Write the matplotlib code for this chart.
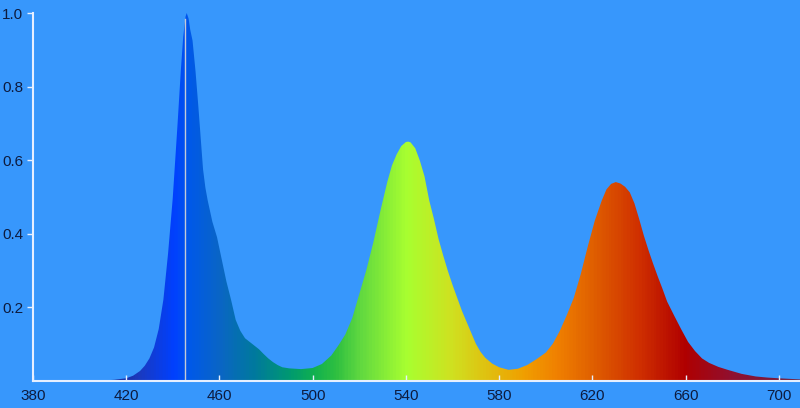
import numpy as np
import matplotlib
matplotlib.use('Agg')
import matplotlib.pyplot as plt
from matplotlib.colors import LinearSegmentedColormap

# spectrum (wavelength nm, relative intensity)
wavelength = [380, 410, 415, 420, 423, 426, 428, 430, 432, 434, 436, 438, 440, 442, 443.5, 444.5,
              445.5, 446, 446.8, 447.5, 448.5, 449.8, 451, 452, 453, 454, 455, 457, 459, 461, 463, 465,
              467, 469, 471, 473, 475, 477, 479, 481, 483, 485, 487, 490, 495, 500,
              504, 508, 511, 514, 517, 520, 523, 526, 529, 532, 534, 536, 538, 540, 541, 542,
              544, 546, 548, 550, 552, 554, 556, 558, 560, 562, 564, 566, 568, 570, 572, 574,
              577, 580, 584, 588, 592, 596, 600, 603, 606, 609, 612, 615, 618, 621, 624, 626,
              628, 630, 632, 634, 636, 638, 640, 642, 644, 646, 648, 650, 652, 655, 658, 661,
              664, 667, 670, 674, 678, 684, 690, 695, 700, 709]
intensity = [0, 0, 0.002, 0.006, 0.013, 0.026, 0.04, 0.06, 0.09, 0.14, 0.22, 0.345, 0.495, 0.69, 0.845, 0.935,
             0.99, 1.0, 0.985, 0.955, 0.925, 0.84, 0.745, 0.66, 0.575, 0.525, 0.49, 0.432, 0.39, 0.33, 0.27, 0.22,
             0.165, 0.135, 0.115, 0.105, 0.095, 0.085, 0.072, 0.06, 0.05, 0.042, 0.036, 0.033, 0.031, 0.034,
             0.045, 0.068, 0.095, 0.125, 0.17, 0.235, 0.30, 0.375, 0.46, 0.54, 0.585, 0.615, 0.638, 0.649, 0.65, 0.648,
             0.632, 0.598, 0.555, 0.49, 0.44, 0.385, 0.34, 0.298, 0.26, 0.225, 0.19, 0.16, 0.13, 0.10, 0.078, 0.062,
             0.046, 0.036, 0.029, 0.032, 0.042, 0.058, 0.076, 0.10, 0.135, 0.178, 0.225, 0.29, 0.365, 0.435, 0.49, 0.52,
             0.535, 0.54, 0.536, 0.527, 0.512, 0.482, 0.44, 0.395, 0.355, 0.318, 0.283, 0.25, 0.215, 0.177, 0.14, 0.105,
             0.08, 0.06, 0.048, 0.037, 0.029, 0.018, 0.011, 0.008, 0.006, 0.003]

peak_marker = 445.3
xticks = [380, 420, 460, 500, 540, 580, 620, 660, 700]
yticks = [0.2, 0.4, 0.6, 0.8, 1.0]

# colour of the fill by wavelength
stops = [(380, '#1a2488'), (415, '#1a2a9a'), (425, '#1a3ac0'), (440, '#0040ff'), (446, '#0058ea'),
         (460, '#0a66c4'), (475, '#007a9c'), (490, '#009a70'), (500, '#10b050'), (510, '#30c040'),
         (520, '#60d840'), (540, '#a8ff30'), (560, '#d0e020'), (575, '#e0c010'), (590, '#f0a000'),
         (605, '#f08000'), (620, '#e06000'), (640, '#d03000'), (660, '#b00000'), (680, '#901030'),
         (709, '#702040')]
lo, hi = 380, 709
cmap = LinearSegmentedColormap.from_list(
    'spec', [((w - lo) / (hi - lo), c) for w, c in stops])

bg = '#3797fc'
txt = '#0d1b3e'
plt.rcParams['font.family'] = ['Liberation Sans', 'DejaVu Sans']

fig = plt.figure(figsize=(8, 4.08), dpi=100)
fig.patch.set_facecolor(bg)
ax = fig.add_axes([0.041, 0.0674, 0.959, 0.9007])
ax.set_facecolor(bg)

poly = ax.fill_between(wavelength, intensity, 0, color='none', lw=0)
grad = ax.imshow(np.linspace(0, 1, 700)[np.newaxis, :], extent=[lo, hi, 0, 1.0],
                 aspect='auto', cmap=cmap, origin='lower', zorder=1)
grad.set_clip_path(poly.get_paths()[0], transform=ax.transData)

ax.plot([peak_marker, peak_marker], [0, 0.985], color='#c4cad6', lw=1.0, zorder=3)

ax.set_xlim(lo, hi)
ax.set_ylim(0, 1.0)
ax.set_xticks(xticks)
ax.set_yticks(yticks)
ax.set_yticklabels(['0.2', '0.4', '0.6', '0.8', '1.0'])

for s in ['top', 'right']:
    ax.spines[s].set_visible(False)
for s in ['left', 'bottom']:
    ax.spines[s].set_color('#e6efff')
    ax.spines[s].set_linewidth(1.5)
    ax.spines[s].set_zorder(4)
ax.tick_params(axis='x', direction='in', length=4, width=1, color='#e6efff',
               labelcolor=txt, labelsize=11, pad=6)
ax.tick_params(axis='y', direction='out', length=4, width=1, color='#e6efff',
               labelcolor=txt, labelsize=11, pad=3)

fig.savefig('out.png', dpi=100, facecolor=bg)
